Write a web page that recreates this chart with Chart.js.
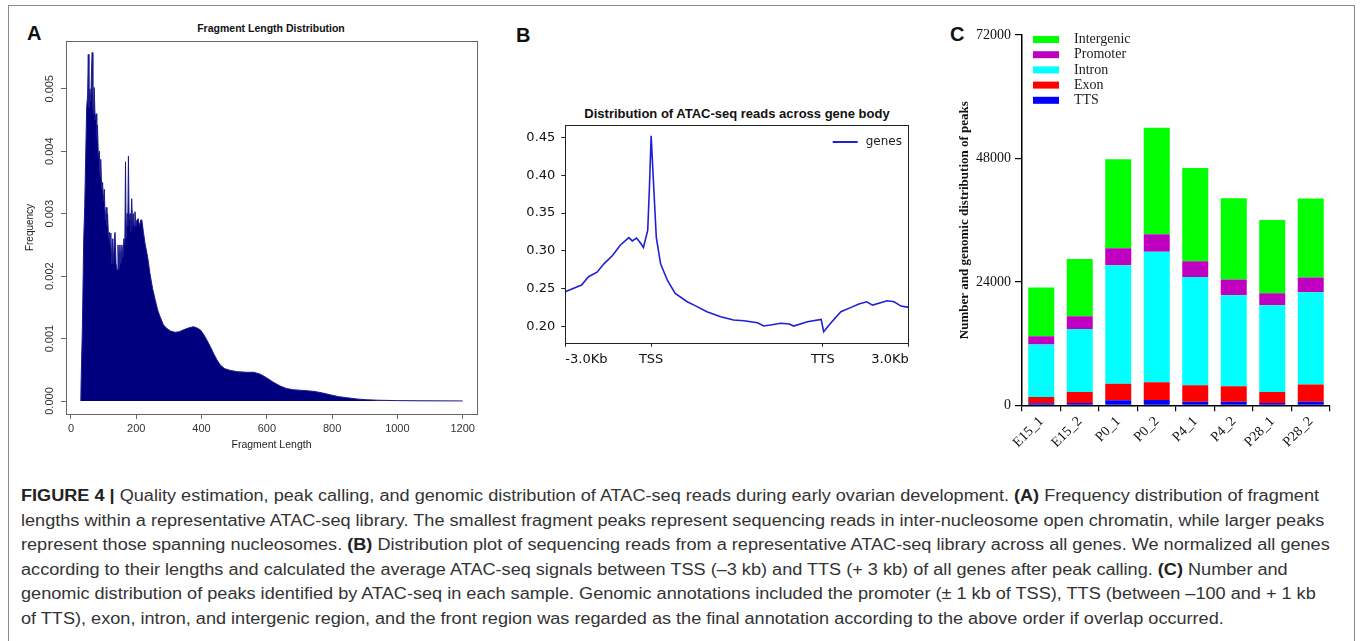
<!DOCTYPE html>
<html>
<head>
<meta charset="utf-8">
<script src="https://cdn.jsdelivr.net/npm/chart.js@4"></script>
<style>
  body { margin: 0; background: #fff; width: 1360px; height: 641px; overflow: hidden; position: relative; }
  .frame { position: absolute; left: 8px; top: 5px; width: 1345px; height: 700px; border: 1px solid #8a8a8a; }
  .letter { position: absolute; font: bold 20px "Liberation Sans", Arial, sans-serif; color: #111; }
  .ptitle { position: absolute; white-space: nowrap; transform: translateX(-50%); color: #111; }
  canvas { position: absolute; }
  #caption { position: absolute; left: 21px; top: 484px; font: 16px "Liberation Sans", Arial, sans-serif;
             color: #333; line-height: 24.6px; white-space: nowrap; transform-origin: 0 0; }
  #caption b { color: #222; }
</style>
</head>
<body>
<div class="frame"></div>

<div class="letter" style="left:27px;top:22px">A</div>
<div class="letter" style="left:516px;top:24px">B</div>
<div class="letter" style="left:950px;top:23px">C</div>

<div class="ptitle" style="left:271px;top:22px;font:bold 10.5px 'Liberation Sans',Arial,sans-serif">Fragment Length Distribution</div>
<div class="ptitle" style="left:737px;top:106px;font:bold 13px 'Liberation Sans Narrow','Liberation Sans',Arial,sans-serif">Distribution of ATAC-seq reads across gene body</div>

<canvas id="fragChart" width="490" height="454" style="left:0;top:0"></canvas>
<canvas id="geneChart" width="420" height="280" style="left:505px;top:100px"></canvas>
<canvas id="peakChart" width="410" height="440" style="left:940px;top:20px"></canvas>

<div id="caption">
  <div><span><b>FIGURE 4 |</b> Quality estimation, peak calling, and genomic distribution of ATAC-seq reads during early ovarian development. <b>(A)</b> Frequency distribution of fragment</span></div>
  <div>lengths within a representative ATAC-seq library. The smallest fragment peaks represent sequencing reads in inter-nucleosome open chromatin, while larger peaks</div>
  <div>represent those spanning nucleosomes. <b>(B)</b> Distribution plot of sequencing reads from a representative ATAC-seq library across all genes. We normalized all genes</div>
  <div>according to their lengths and calculated the average ATAC-seq signals between TSS (–3 kb) and TTS (+ 3 kb) of all genes after peak calling. <b>(C)</b> Number and</div>
  <div>genomic distribution of peaks identified by ATAC-seq in each sample. Genomic annotations included the promoter (± 1 kb of TSS), TTS (between –100 and + 1 kb</div>
  <div>of TTS), exon, intron, and intergenic region, and the front region was regarded as the final annotation according to the above order if overlap occurred.</div>
</div>

<script>
// ---- A: fragment length histogram
const fragLen = [30,31,35,39,42,45,48,51,53,55,58,61,63,65,67,69,71,74,77,79,81,84,87,89,91,94,97,99,102,105,
  108,110,112,115,118,120,122,125,128,130,133,135,138,141,144,147,150,153,156,159,162,165,167,169,172,174,176,178,181,183,
  186,189,192,194,196,199,202,206,210,214,217,222,227,235,242,250,258,266,273,283,294,305,319,332,345,360,375,386,396,406,
  416,427,437,447,457,470,488,510,539,560,580,600,620,641,660,682,710,743,770,794,820,845,875,906,940,968,1000,1070,1200];
const fragFreq = [0,0.0003,0.0012,0.0026,0.0031,0.0039,0.0047,0.0049,0.00555,0.0047,0.0050,0.0048,0.0053,0.00558,0.0047,0.0046,0.00502,0.0045,0.0046,0.0042,
  0.00442,0.0039,0.0040,0.0036,0.00387,0.0034,0.0035,0.0032,0.00339,0.0029,0.0031,0.0028,0.0030,0.0026,0.0027,0.0025,0.00269,0.0022,0.0026,0.0022,
  0.0026,0.0027,0.0022,0.0021,0.0025,0.0021,0.0025,0.0022,0.0025,0.0023,0.0026,0.0025,0.00383,0.0026,0.0030,0.0028,0.00392,0.0029,0.0030,0.0027,
  0.00324,0.0028,0.0030,0.0028,0.00303,0.0028,0.0029,0.00292,0.0028,0.0029,0.0029,0.0027,0.00252,0.0023,0.00204,0.0018,0.00162,0.00145,0.00135,0.00122,
  0.00116,0.00112,0.0011,0.00111,0.00114,0.00117,0.00119,0.00117,0.00114,0.00107,0.00098,0.00087,0.00076,0.00066,0.00058,0.00052,0.00049,0.00047,0.00046,0.00046,
  0.00043,0.00037,0.0003,0.00024,0.0002,0.00018,0.00017,0.000155,0.00013,0.0001,0.00007,0.000053,0.000033,0.00002,0.000013,0.00001,0.000006,0.000003,0.000001];
const fragXTicks = [0, 200, 400, 600, 800, 1000, 1200];
const fragYTicks = [0, 0.001, 0.002, 0.003, 0.004, 0.005];

// ---- B: reads across gene body (x: 0 = -3.0Kb, 100 = TSS, 300 = TTS, 400 = 3.0Kb)
const geneBin = [0,14,19,27,37,45,55,64,74,78,83,88,91,96,98,100,103,106,111,119,
  128,142,150,165,181,196,208,224,231,239,251,261,266,282,298,301,309,321,333,342,351,358,375,383,391,400];
const geneSignal = [0.246,0.2526,0.255,0.266,0.272,0.283,0.294,0.3075,0.3176,0.3132,0.3171,0.3097,0.3045,0.327,0.384,0.452,0.384,0.318,0.283,0.261,
  0.244,0.233,0.2285,0.2197,0.2132,0.2088,0.2079,0.2053,0.2009,0.2022,0.2045,0.2036,0.2009,0.2066,0.2097,0.1934,0.2045,0.2197,0.2255,0.2299,
  0.2329,0.2285,0.2342,0.2329,0.2272,0.2255];
const geneTickPos = [0, 100, 300, 400];
const geneTickLabels = ["-3.0Kb", "TSS", "TTS", "3.0Kb"];
const geneYTicks = [0.20, 0.25, 0.30, 0.35, 0.40, 0.45];

// ---- C: genomic distribution of peaks
const samples = ["E15_1", "E15_2", "P0_1", "P0_2", "P4_1", "P4_2", "P28_1", "P28_2"];
const ttsPeaks = [390, 450, 970, 1040, 710, 710, 450, 710];
const exonPeaks = [1230, 2140, 3240, 3440, 3180, 2990, 2140, 3310];
const intronPeaks = [10180, 12260, 23030, 25360, 21080, 17710, 16870, 17970];
const promoterPeaks = [1620, 2470, 3310, 3440, 3050, 3050, 2340, 2850];
const intergenicPeaks = [9470, 11150, 17280, 20700, 18110, 15780, 14220, 15360];
const peakYTicks = [0, 24000, 48000, 72000];

const frame = {
  id: "frame",
  afterDraw(chart, args, opts) {
    const { ctx, chartArea: a } = chart;
    ctx.save();
    ctx.strokeStyle = opts.color;
    ctx.lineWidth = 1;
    ctx.strokeRect(Math.round(a.left) + 0.5, Math.round(a.top) + 0.5,
      Math.round(a.right - a.left), Math.round(a.bottom - a.top));
    ctx.restore();
  }
};

// R style: y tick labels turned on their side
const sideLabels = {
  id: "sideLabels",
  afterDraw(chart) {
    const { ctx } = chart;
    const y = chart.scales.y;
    ctx.save();
    ctx.font = '11px "Liberation Sans", Arial, sans-serif';
    ctx.fillStyle = "#333";
    ctx.textAlign = "center";
    ctx.textBaseline = "middle";
    y.ticks.forEach((t) => {
      ctx.save();
      ctx.translate(y.right - 16, y.getPixelForValue(t.value));
      ctx.rotate(-Math.PI / 2);
      ctx.fillText(t.value.toFixed(3), 0, 0);
      ctx.restore();
    });
    ctx.restore();
  }
};

new Chart(document.getElementById("fragChart"), {
  type: "line",
  data: {
    datasets: [{
      data: fragLen.map((x, i) => ({ x, y: fragFreq[i] })),
      borderColor: "#1a1a8c",
      backgroundColor: "#00007f",
      borderWidth: 1,
      fill: "origin",
      tension: 0,
      pointRadius: 0,
    }],
  },
  options: {
    responsive: false,
    animation: false,
    layout: { padding: { top: 41, right: 13, left: 0, bottom: 0 } },
    plugins: { legend: { display: false }, tooltip: { enabled: false }, frame: { color: "#666" } },
    scales: {
      x: {
        type: "linear",
        min: -15.3,
        max: 1244,
        afterBuildTicks: (axis) => { axis.ticks = fragXTicks.map((value) => ({ value })); },
        afterFit: (s) => { s.height = 40; },
        ticks: { callback: (v) => String(v), font: { family: "Liberation Sans", size: 11 }, color: "#333", padding: 3, maxRotation: 0 },
        grid: { drawOnChartArea: false, tickLength: 5, color: "#666" },
        border: { display: false },
        title: { display: true, text: "Fragment Length", font: { family: "Liberation Sans", size: 10.5 }, color: "#222", padding: { top: 0, bottom: 3 } },
      },
      y: {
        min: -0.000208,
        max: 0.005765,
        afterBuildTicks: (axis) => { axis.ticks = fragYTicks.map((value) => ({ value })); },
        afterFit: (s) => { s.width = 66; },
        ticks: { display: false },
        grid: { drawOnChartArea: false, tickLength: 5, color: "#666" },
        border: { display: false },
        title: { display: true, text: "Frequency", font: { family: "Liberation Sans", size: 10 }, color: "#222", padding: { top: 24, bottom: 0 } },
      },
    },
  },
  plugins: [frame, sideLabels],
});

const geneLegend = {
  id: "geneLegend",
  afterDraw(chart) {
    const { ctx, chartArea: a } = chart;
    const ds = chart.data.datasets[0];
    const y = a.top + 17;
    ctx.save();
    ctx.strokeStyle = ds.borderColor;
    ctx.lineWidth = 2;
    ctx.beginPath();
    ctx.moveTo(a.right - 76, y);
    ctx.lineTo(a.right - 51, y);
    ctx.stroke();
    ctx.font = '12px "DejaVu Sans", sans-serif';
    ctx.fillStyle = "#222";
    ctx.textBaseline = "middle";
    ctx.fillText(ds.label, a.right - 43, y);
    ctx.restore();
  }
};

new Chart(document.getElementById("geneChart"), {
  type: "line",
  data: {
    datasets: [{
      label: "genes",
      data: geneBin.map((x, i) => ({ x, y: geneSignal[i] })),
      borderColor: "#1f1fd8",
      borderWidth: 1.6,
      tension: 0,
      pointRadius: 0,
    }],
  },
  options: {
    responsive: false,
    animation: false,
    layout: { padding: { top: 25, right: 16.3, left: 0, bottom: 0 } },
    plugins: { legend: { display: false }, tooltip: { enabled: false }, frame: { color: "#222" } },
    scales: {
      x: {
        type: "linear",
        min: 0,
        max: 400,
        afterBuildTicks: (axis) => { axis.ticks = geneTickPos.map((value) => ({ value })); },
        afterFit: (s) => { s.height = 37.3; },
        ticks: {
          callback: (v) => geneTickLabels[geneTickPos.indexOf(v)],
          align: "inner",
          font: { family: "DejaVu Sans", size: 13 },
          color: "#111",
          padding: 5,
          maxRotation: 0,
        },
        grid: { drawOnChartArea: false, tickLength: 4, color: "#222" },
        border: { display: false },
      },
      y: {
        min: 0.1789,
        max: 0.4662,
        afterBuildTicks: (axis) => { axis.ticks = geneYTicks.map((value) => ({ value })); },
        afterFit: (s) => { s.width = 60.3; },
        ticks: { callback: (v) => v.toFixed(2), font: { family: "DejaVu Sans", size: 13 }, color: "#111", padding: 6 },
        grid: { drawOnChartArea: false, tickLength: 4, color: "#222" },
        border: { display: false },
      },
    },
  },
  plugins: [frame, geneLegend],
});

const peakLegend = {
  id: "peakLegend",
  afterDraw(chart) {
    const { ctx, chartArea: a } = chart;
    const sets = chart.data.datasets.slice().reverse();
    ctx.save();
    ctx.font = '14px "Liberation Serif", "Times New Roman", serif';
    ctx.textBaseline = "middle";
    sets.forEach((ds, i) => {
      const y = a.top + 4.5 + i * 15.2;
      ctx.fillStyle = ds.backgroundColor;
      ctx.fillRect(a.left + 11, y - 3.5, 26, 7);
      ctx.fillStyle = "#222";
      ctx.fillText(ds.label, a.left + 52, y);
    });
    ctx.restore();
  }
};

const serif = "Liberation Serif";
new Chart(document.getElementById("peakChart"), {
  type: "bar",
  data: {
    labels: samples,
    datasets: [
      { label: "TTS", data: ttsPeaks, backgroundColor: "#0000ff" },
      { label: "Exon", data: exonPeaks, backgroundColor: "#ff0000" },
      { label: "Intron", data: intronPeaks, backgroundColor: "#00ffff" },
      { label: "Promoter", data: promoterPeaks, backgroundColor: "#c000c0" },
      { label: "Intergenic", data: intergenicPeaks, backgroundColor: "#00ff00" },
    ],
  },
  options: {
    responsive: false,
    animation: false,
    datasets: { bar: { barPercentage: 0.675, categoryPercentage: 1, borderWidth: 0 } },
    layout: { padding: { top: 15, right: 20, left: 0, bottom: 0 } },
    plugins: { legend: { display: false }, tooltip: { enabled: false } },
    scales: {
      x: {
        stacked: true,
        afterFit: (s) => { s.height = 54.7; },
        ticks: { font: { family: serif, size: 14 }, color: "#111", minRotation: 45, maxRotation: 45, padding: 2 },
        grid: { drawOnChartArea: false, tickLength: 6, color: "#000", lineWidth: 1.2 },
        border: { color: "#000", width: 1.5 },
      },
      y: {
        stacked: true,
        min: 0,
        max: 72000,
        afterBuildTicks: (axis) => { axis.ticks = peakYTicks.map((value) => ({ value })); },
        afterFit: (s) => { s.width = 82; },
        ticks: { callback: (v) => String(v), font: { family: serif, size: 14 }, color: "#111", padding: 4 },
        grid: { drawOnChartArea: false, tickLength: 7, color: "#000", lineWidth: 1.2 },
        border: { color: "#000", width: 1.5 },
        title: { display: true, text: "Number and genomic distribution of peaks", font: { family: serif, size: 13, weight: "bold" }, color: "#111", padding: { top: 17, bottom: 0 } },
      },
    },
  },
  plugins: [peakLegend],
});

// stretch the caption block so its first line spans like the reference
const cap = document.getElementById("caption");
const first = cap.querySelector("span");
const w = first.getBoundingClientRect().width;
cap.style.transform = "scaleX(" + (1298 / w) + ")";
</script>
</body>
</html>
